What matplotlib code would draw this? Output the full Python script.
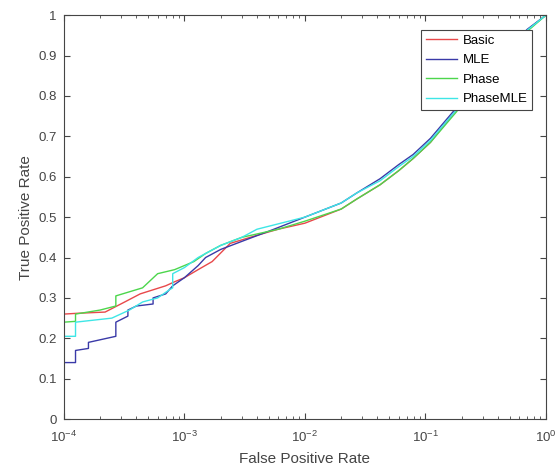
from matplotlib import pyplot as plt
import numpy as np

plt.rcParams['font.family'] = ['Liberation Sans', 'DejaVu Sans']
plt.rcParams['mathtext.fontset'] = 'custom'
plt.rcParams['mathtext.rm'] = 'Liberation Sans'

# ROC curves (false positive rate, true positive rate)
basic_fpr = [1e-4, 1.3e-4, 2.2e-4, 3.2e-4, 4.3e-4, 7e-4, 8.3e-4, 1e-3, 1.3e-3, 1.7e-3, 2.4e-3,
             4e-3, 6e-3, 1e-2, 2e-2, 2.7e-2, 4.2e-2, 6e-2, 7.9e-2, 1.1e-1, 1.8e-1, 3e-1,
             5e-1, 7e-1, 1.0]
basic_tpr = [0.26, 0.262, 0.265, 0.29, 0.31, 0.33, 0.34, 0.35, 0.37, 0.39, 0.435,
             0.455, 0.47, 0.485, 0.52, 0.545, 0.58, 0.615, 0.645, 0.685, 0.765, 0.85,
             0.92, 0.963, 1.0]

mle_fpr = [1e-4, 1.25e-4, 1.25e-4, 1.6e-4, 1.6e-4, 2.7e-4, 2.7e-4, 3.4e-4, 3.4e-4, 4e-4,
           5.5e-4, 5.5e-4, 7e-4, 8e-4, 1e-3, 1.3e-3, 1.5e-3, 2e-3, 3e-3, 5e-3, 1e-2,
           2e-2, 2.7e-2, 4.2e-2, 6e-2, 7.9e-2, 1.1e-1, 1.8e-1, 3e-1, 5e-1, 7e-1, 1.0]
mle_tpr = [0.14, 0.14, 0.17, 0.175, 0.19, 0.205, 0.24, 0.255, 0.27, 0.28,
           0.285, 0.30, 0.31, 0.33, 0.35, 0.38, 0.40, 0.42, 0.44, 0.465, 0.50,
           0.535, 0.56, 0.595, 0.63, 0.655, 0.695, 0.77, 0.855, 0.922, 0.965, 1.0]

phase_fpr = [1e-4, 1.25e-4, 1.25e-4, 2e-4, 2.7e-4, 2.7e-4, 4.5e-4, 6e-4, 8.3e-4, 1.2e-3,
             1.5e-3, 2e-3, 3e-3, 6e-3, 1e-2, 2e-2, 2.7e-2, 4.2e-2, 6e-2, 7.9e-2, 1.1e-1,
             1.8e-1, 3e-1, 5e-1, 7e-1, 1.0]
phase_tpr = [0.24, 0.242, 0.26, 0.27, 0.28, 0.305, 0.325, 0.36, 0.37, 0.39,
             0.41, 0.43, 0.45, 0.47, 0.49, 0.52, 0.545, 0.58, 0.615, 0.645, 0.685,
             0.76, 0.845, 0.915, 0.96, 1.0]

phasemle_fpr = [1e-4, 1.25e-4, 1.25e-4, 2.5e-4, 3.5e-4, 4.5e-4, 6e-4, 7.5e-4, 8e-4, 8e-4,
                1e-3, 1.3e-3, 2e-3, 3e-3, 4e-3, 1e-2, 2e-2, 2.7e-2, 4.2e-2, 6e-2, 7.9e-2,
                1.1e-1, 1.8e-1, 3e-1, 5e-1, 7e-1, 1.0]
phasemle_tpr = [0.205, 0.205, 0.24, 0.25, 0.27, 0.29, 0.30, 0.32, 0.325, 0.36,
                0.375, 0.40, 0.43, 0.45, 0.47, 0.50, 0.535, 0.56, 0.59, 0.625, 0.65,
                0.69, 0.765, 0.85, 0.92, 0.963, 1.0]

names = ['Basic', 'MLE', 'Phase', 'PhaseMLE']
colors = ['#e8484a', '#3a3aa8', '#4cd64c', '#3ee6e6']
xticks = [1e-4, 1e-3, 1e-2, 1e-1, 1.0]
xtick_labels = ['$\\mathregular{10^{-4}}$', '$\\mathregular{10^{-3}}$', '$\\mathregular{10^{-2}}$',
                '$\\mathregular{10^{-1}}$', '$\\mathregular{10^{0}}$']

fig = plt.figure(figsize=(5.6, 4.72), dpi=100)
ax = fig.add_axes([0.114, 0.112, 0.861, 0.856])

curves = [(basic_fpr, basic_tpr), (mle_fpr, mle_tpr),
          (phase_fpr, phase_tpr), (phasemle_fpr, phasemle_tpr)]
for (fx, ty), name, c in zip(curves, names, colors):
    ax.plot(fx, ty, color=c, lw=1.0, label=name)

ax.set_xscale('log')
ax.set_xlim(1e-4, 1)
ax.set_ylim(0, 1)
ax.set_xticks(xticks)
ax.set_xticklabels(xtick_labels)
ax.set_yticks(np.arange(0, 1.01, 0.1))
ax.set_yticklabels(['0', '0.1', '0.2', '0.3', '0.4', '0.5', '0.6', '0.7', '0.8', '0.9', '1'])

gray = '#454545'
ax.tick_params(which='both', direction='in', top=True, right=True,
               colors=gray, labelsize=9.5, labelcolor=gray)
ax.tick_params(which='major', length=4)
ax.tick_params(which='minor', length=2)
ax.tick_params(axis='x', pad=8)
ax.tick_params(axis='y', pad=5)
for s in ax.spines.values():
    s.set_color(gray)
    s.set_linewidth(0.8)

ax.set_xlabel('False Positive Rate', fontsize=11, color=gray, labelpad=5)
ax.set_ylabel('True Positive Rate', fontsize=11, color=gray, labelpad=4)

leg = ax.legend(loc='upper right', bbox_to_anchor=(0.971, 0.963), borderaxespad=0,
                fontsize=9.5, fancybox=False, edgecolor=gray, framealpha=1,
                handlelength=2.35, handletextpad=0.45, borderpad=0.35, labelspacing=0.55)
leg.get_frame().set_linewidth(0.8)

fig.savefig('out.png', dpi=100)
